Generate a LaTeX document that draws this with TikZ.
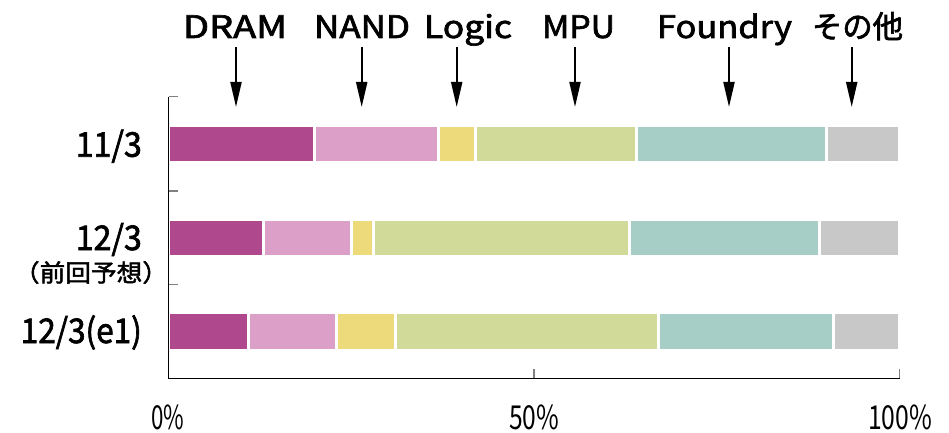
\documentclass[tikz,border=0pt]{standalone}
\usepackage{fontspec}
\setmainfont{Noto Sans CJK JP}
\newfontfamily\medium[FakeBold=2]{Noto Sans CJK JP}
\usetikzlibrary{arrows.meta}

% segment colours
\definecolor{cDram}{RGB}{176,72,142}
\definecolor{cNand}{RGB}{220,160,200}
\definecolor{cLogic}{RGB}{237,218,123}
\definecolor{cMpu}{RGB}{209,218,152}
\definecolor{cFoundry}{RGB}{166,206,198}
\definecolor{cOther}{RGB}{200,200,200}
\definecolor{cTick}{RGB}{128,128,128}

% stretch a text horizontally to a given width, keeping its height
\newcommand{\wide}[2]{\resizebox{#1pt}{\height}{#2}}

\begin{document}
\begin{tikzpicture}[x=1pt,y=-1pt,
  toplabel/.style={inner sep=0pt,anchor=base,font=\fontsize{31}{31}\selectfont\medium},
  rowlabel/.style={inner sep=0pt,anchor=base east,font=\fontsize{34}{34}\selectfont\medium},
  pctlabel/.style={inner sep=0pt,anchor=base,font=\fontsize{33}{33}\selectfont},
  pointer/.style={line width=2pt,-{Triangle[length=25pt,width=11pt]}},
  axisline/.style={line width=1.5pt,black},
  tickline/.style={line width=1.5pt,cTick}]
\useasboundingbox (0,0) rectangle (949,433);

% horizontal scale: 0% at x0, 1% = unit
\def\xo{168.5}
\def\unit{7.31}
\def\hh{17.2}

% stacked bars: cumulative share boundaries per row
\foreach \yc/\bounds in {144/{0,20,37,42,64,90,100},
                         237.7/{0,13,25,28,63,89,100},
                         331.5/{0,11,23,31,67,91,100}}{
  \foreach \a/\b/\c in {0/1/cDram,1/2/cNand,2/3/cLogic,3/4/cMpu,4/5/cFoundry,5/6/cOther}{
    \pgfmathsetmacro\pa{{\bounds}[\a]}
    \pgfmathsetmacro\pb{{\bounds}[\b]}
    \fill[\c] ({\xo+\unit*\pa+1.5},{\yc-\hh}) rectangle ({\xo+\unit*\pb-1.5},{\yc+\hh});
  }
}

% axes and ticks
\draw[tickline] (\xo,96.7) -- (177.7,96.7);
\draw[tickline] (\xo,191) -- (177.7,191);
\draw[tickline] (\xo,284.3) -- (177.7,284.3);
\draw[tickline] (534,369) -- (534,378.3);
\draw[tickline] (899.5,369) -- (899.5,378.3);
\draw[axisline] (\xo,96.7) -- (\xo,378.3) -- (899.5,378.3);

% category labels on top
\node[toplabel] (lDram) at (235,38) {\wide{104}{DRAM}};
\node[toplabel] (lNand) at (362,38) {\wide{96}{NAND}};
\node[toplabel] (lLogic) at (468,38) {\wide{88}{Logic}};
\node[toplabel] (lMpu) at (578.5,38) {\wide{73}{MPU}};
\node[toplabel] (lFoundry) at (724.5,38) {\wide{135}{Foundry}};
\node[toplabel] (lOther) at (857.5,38) {\wide{91}{その他}};

% pointers from labels down to the bars
\foreach \n/\x in {Dram/236,Nand/361.7,Logic/456.7,Mpu/575,Foundry/729,Other/851.7}{
  \coordinate (s\n) at (\x,47);
  \coordinate (e\n) at (\x,107);
  \draw[pointer] (s\n) -- (e\n);
}

% row labels
\node[rowlabel] (r1) at (142,156.7) {\wide{66}{11/3}};
\node[rowlabel] (r2) at (142,250) {\wide{66}{12/3}};
\node[inner sep=0pt,font=\fontsize{24}{24}\selectfont\medium] (r2b) at (91,272.5) {\wide{154}{（前回予想）}};
\node[rowlabel] (r3) at (142,343) {\wide{121}{12/3(e1)}};

% percentage labels
\node[pctlabel] (p0) at (168,429.3) {\wide{33}{0\%}};
\node[pctlabel] (p50) at (534,429.3) {\wide{50}{50\%}};
\node[pctlabel] (p100) at (900,429.3) {\wide{64}{100\%}};
\end{tikzpicture}
\end{document}
